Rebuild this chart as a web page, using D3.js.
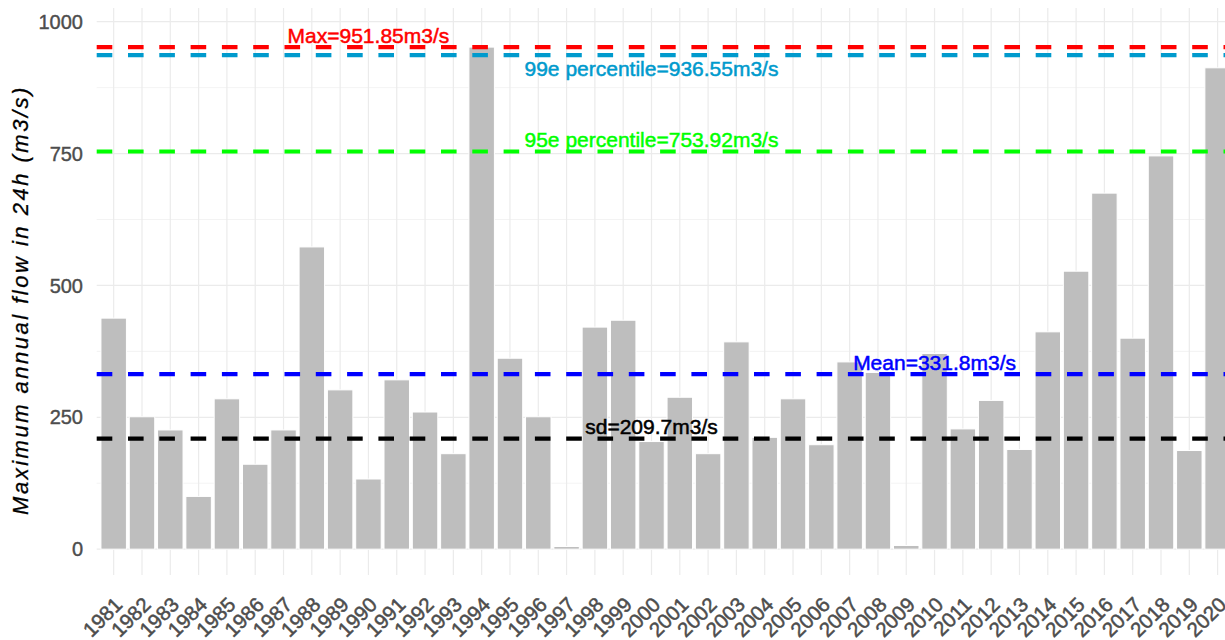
<!DOCTYPE html>
<head>
    <script src="https://d3js.org/d3.v7.min.js"></script>
    <style>
        body { margin: 0; background: #fff; }
        text { font-family: "Liberation Sans", Arial, sans-serif; }
    </style>
</head>

<body>
    <div id="chart"></div>
</body>

<script>
    const width = 1225,
        height = 640;

    // panel edges (the right side runs past the picture, as in the original)
    const panel = {left: 96.7, right: 1234.6, top: 8, bottom: 575};

    const years = d3.range(1981, 2021).map(String);

    const flows = [438, 251, 226, 100, 285, 161, 226, 573, 302, 133,
                   321, 260, 181, 951.85, 362, 251, 5, 421, 434, 204,
                   288, 181, 393, 212, 285, 198, 355, 335, 7, 371,
                   228, 282, 189, 412, 527, 675, 400, 745.6, 187, 912.6];

    const yTicks = [0, 250, 500, 750, 1000];
    const yMinor = [125, 375, 625, 875];

    // reference lines: value, colour, label, where the label sits, above/below
    const refNames  = ["max", "p99", "p95", "mean", "sd"];
    const refValues = [951.85, 936.55, 753.92, 331.8, 209.7];
    const refColors = ["#FF0000", "#009ACD", "#00FF00", "#0000FF", "#000000"];
    const refLabels = ["Max=951.85m3/s", "99e percentile=936.55m3/s",
                       "95e percentile=753.92m3/s", "Mean=331.8m3/s", "sd=209.7m3/s"];
    const refLabelAt = ["1990", "2000", "2000", "2010", "2000"];
    const refBelow  = [false, true, false, false, false];

    const yTitle = "Maximum annual flow in 24h (m3/s)";

    const svg = d3.select("#chart")
        .append("svg")
        .attr("width", width)
        .attr("height", height);

    const x = d3.scaleBand()
        .domain(years)
        .range([panel.left, panel.right])
        .paddingInner(0.1)
        .paddingOuter(0.15);

    const y = d3.scaleLinear()
        .domain([-49, 1026])
        .range([panel.bottom, panel.top]);

    const xc = d => x(d) + x.bandwidth() / 2;

    // grid
    const grid = svg.append("g");
    grid.selectAll("line.minor").data(yMinor)
        .join("line")
        .attr("x1", panel.left).attr("x2", panel.right)
        .attr("y1", d => y(d)).attr("y2", d => y(d))
        .attr("stroke", "#EBEBEB").attr("stroke-width", 0.6);
    grid.selectAll("line.major").data(yTicks)
        .join("line")
        .attr("x1", panel.left).attr("x2", panel.right)
        .attr("y1", d => y(d)).attr("y2", d => y(d))
        .attr("stroke", "#EBEBEB").attr("stroke-width", 1.2);
    grid.selectAll("line.vert").data(years)
        .join("line")
        .attr("x1", xc).attr("x2", xc)
        .attr("y1", panel.top).attr("y2", panel.bottom)
        .attr("stroke", "#EBEBEB").attr("stroke-width", 1.2);

    // bars
    svg.append("g")
        .selectAll("rect").data(years)
        .join("rect")
        .attr("x", d => x(d))
        .attr("width", x.bandwidth())
        .attr("y", (d, i) => y(flows[i]))
        .attr("height", (d, i) => y(0) - y(flows[i]))
        .attr("fill", "#BEBEBE")
        .attr("stroke", "#ffffff")
        .attr("stroke-width", 1);

    // dashed reference lines
    svg.append("g")
        .selectAll("line").data(refNames)
        .join("line")
        .attr("x1", panel.left).attr("x2", panel.right)
        .attr("y1", (d, i) => y(refValues[i]))
        .attr("y2", (d, i) => y(refValues[i]))
        .attr("stroke", (d, i) => refColors[i])
        .attr("stroke-width", 4.2)
        .attr("stroke-dasharray", "15.6,15.7");

    svg.append("g")
        .selectAll("text").data(refNames)
        .join("text")
        .attr("x", (d, i) => xc(refLabelAt[i]))
        .attr("y", (d, i) => y(refValues[i]) + (refBelow[i] ? 20.5 : -4.5))
        .attr("text-anchor", "middle")
        .attr("fill", (d, i) => refColors[i])
        .attr("stroke", (d, i) => refColors[i])
        .attr("stroke-width", 0.5)
        .style("font-size", "21px")
        .text((d, i) => refLabels[i]);

    // y axis labels
    svg.append("g")
        .selectAll("text").data(yTicks)
        .join("text")
        .attr("x", 83)
        .attr("y", d => y(d))
        .attr("dy", "0.36em")
        .attr("text-anchor", "end")
        .attr("fill", "#4D4D4D")
        .attr("stroke", "#4D4D4D")
        .attr("stroke-width", 0.4)
        .style("font-size", "20px")
        .text(d => d);

    // x axis labels, 45 degrees
    svg.append("g")
        .selectAll("text").data(years)
        .join("text")
        .attr("transform", d => `translate(${xc(d) + 10},606) rotate(-45)`)
        .attr("text-anchor", "end")
        .attr("fill", "#4D4D4D")
        .attr("stroke", "#4D4D4D")
        .attr("stroke-width", 0.5)
        .style("font-size", "20.5px")
        .text(d => d);

    svg.append("text")
        .attr("transform", "translate(28,300) rotate(-90)")
        .attr("text-anchor", "middle")
        .style("font-size", "22px")
        .style("font-style", "italic")
        .style("letter-spacing", "2.5px")
        .attr("fill", "#000")
        .attr("stroke", "#000")
        .attr("stroke-width", 0.3)
        .text(yTitle);

</script>
</html>
